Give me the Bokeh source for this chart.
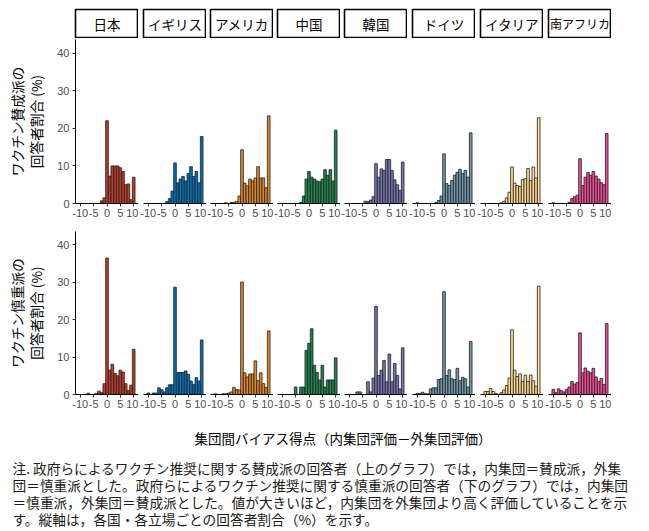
from bokeh.plotting import figure
from bokeh.layouts import row, column
from bokeh.models import Range1d, FixedTicker, Label, PrintfTickFormatter
from bokeh.embed import file_html
from bokeh.resources import INLINE

# ---------------- data ----------------
scores = list(range(-10, 11))
countries = ["日本", "イギリス", "アメリカ", "中国", "韓国", "ドイツ", "イタリア", "南アフリカ"]
colors = ["#BC3C29", "#0072B5", "#E18727", "#20854E", "#7876B1", "#6F99AD", "#FFDC91", "#EE4C97"]
x_ticks = [-10, -5, 0, 5, 10]
y_ticks = [0, 10, 20, 30, 40]

# ワクチン賛成派 (upper row), % per score -10..10
pro_japan   = [0, 0, 0, 0, 0, 0, 0, 0, 0.7, 1.5, 22.0, 7.3, 10.0, 10.0, 10.0, 9.5, 8.5, 5.0, 5.2, 1.0, 7.0]
pro_uk      = [0, 0, 0, 0, 0, 0, 0, 0.5, 1.3, 3.3, 10.8, 5.5, 6.5, 7.2, 6.0, 8.0, 9.8, 7.2, 8.5, 5.5, 17.8]
pro_us      = [0, 0, 0, 0, 0.2, 0, 0.3, 0.3, 0.5, 2.0, 14.3, 5.4, 4.7, 6.5, 6.0, 6.8, 9.8, 6.8, 6.8, 4.2, 23.3]
pro_china   = [0, 0, 0, 0, 0, 0, 0, 0.3, 2.0, 6.5, 8.5, 7.0, 6.5, 6.0, 5.8, 6.5, 9.0, 7.5, 9.0, 6.0, 19.5]
pro_korea   = [0, 0, 0, 0, 0, 0, 0.6, 0.5, 0.9, 1.8, 10.6, 7.0, 9.2, 8.8, 11.7, 11.7, 8.8, 6.3, 5.0, 3.5, 11.0]
pro_germany = [0.2, 0, 0, 0, 0, 0, 0, 0.3, 0.8, 2.0, 13.2, 5.3, 4.8, 6.1, 7.5, 8.3, 9.1, 8.0, 8.8, 7.0, 18.8]
pro_italy   = [0, 0, 0, 0, 0, 0, 0.2, 0.6, 1.5, 3.0, 9.7, 5.4, 4.8, 4.5, 6.4, 6.6, 9.3, 6.1, 9.7, 6.8, 22.8]
pro_safrica = [0.2, 0, 0, 0, 0, 0, 0.3, 1.3, 1.8, 2.2, 11.9, 4.8, 7.0, 8.2, 7.5, 8.5, 7.3, 6.5, 5.5, 5.0, 18.6]

# ワクチン慎重派 (lower row)
cau_japan   = [0, 0, 0, 0.35, 0, 0, 0.3, 0.9, 0.5, 2.9, 36.5, 6.5, 8.1, 5.6, 5.0, 6.5, 6.0, 2.9, 1.1, 2.5, 12.1]
cau_uk      = [0.4, 0, 0.4, 0.4, 1.8, 1.3, 0.7, 1.8, 2.6, 2.6, 28.7, 5.9, 5.9, 5.9, 6.3, 5.4, 3.6, 2.7, 4.5, 3.6, 14.6]
cau_us      = [0.2, 0, 0, 0.2, 0.2, 0.4, 0.7, 1.9, 1.3, 1.2, 30.1, 5.8, 4.7, 5.5, 5.5, 9.0, 3.7, 5.8, 2.9, 1.9, 17.0]
cau_china   = [0, 0, 0, 0, 0, 2.0, 0, 2.0, 2.0, 11.8, 13.7, 17.6, 7.8, 5.9, 3.9, 7.8, 2.0, 3.9, 3.9, 3.9, 9.8]
cau_korea   = [0, 0, 0, 0.7, 0.7, 0, 0, 3.4, 0.7, 4.4, 23.6, 5.1, 6.5, 9.1, 3.4, 10.8, 3.4, 8.3, 5.1, 1.5, 12.5]
cau_germany = [0.3, 0.3, 0.6, 0.2, 0.2, 1.5, 1.8, 1.8, 4.0, 4.2, 27.5, 5.1, 6.6, 4.2, 4.0, 7.0, 3.7, 4.6, 4.2, 2.0, 14.2]
cau_italy   = [0.8, 0.8, 1.6, 0.8, 0.3, 0, 0.5, 1.2, 2.4, 4.4, 17.3, 6.5, 4.8, 5.5, 3.5, 5.2, 3.5, 5.2, 3.7, 2.2, 29.0]
cau_safrica = [1.4, 0.5, 1.5, 1.0, 0.7, 1.4, 2.0, 3.5, 2.8, 3.2, 16.5, 5.8, 7.1, 6.2, 5.8, 7.0, 4.7, 3.5, 4.3, 2.7, 19.0]

pro_rows = [pro_japan, pro_uk, pro_us, pro_china, pro_korea, pro_germany, pro_italy, pro_safrica]
cau_rows = [cau_japan, cau_uk, cau_us, cau_china, cau_korea, cau_germany, cau_italy, cau_safrica]

pro_ylabel = "ワクチン賛成派の\n回答者割合 (%)"
cau_ylabel = "ワクチン慎重派の\n回答者割合 (%)"
x_title = "集団間バイアス得点（内集団評価－外集団評価）"
note_lines = [
    "注. 政府らによるワクチン推奨に関する賛成派の回答者（上のグラフ）では，内集団＝賛成派，外集",
    "団＝慎重派とした。政府らによるワクチン推奨に関する慎重派の回答者（下のグラフ）では，内集団",
    "＝慎重派，外集団＝賛成派とした。値が大きいほど，内集団を外集団より高く評価していることを示",
    "す。縦軸は，各国・各立場ごとの回答者割合（%）を示す。",
]

# ---------------- styling ----------------
JP = "Noto Sans CJK JP"
NUM = "Liberation Sans"
FS = "13.7px"
widths = [138, 68, 67, 67, 67, 68, 68, 68]
FRAME_W = 63
X_LIM = (-11.8, 11.8)
Y_LIM = (0, 43.6)


def strip(i):
    w = widths[i]
    p = figure(width=w, height=38, x_range=Range1d(0, 1), y_range=Range1d(0, 1),
               x_axis_type=None, y_axis_type=None, output_backend="svg", toolbar_location=None,
               min_border_left=w - FRAME_W, min_border_right=0, min_border_top=9, min_border_bottom=1)
    p.outline_line_color = "black"
    p.outline_line_width = 1.6
    p.background_fill_color = "white"
    p.border_fill_color = "white"
    p.xgrid.visible = False
    p.ygrid.visible = False
    size = min(13.5, 60.0 / len(countries[i]))
    p.add_layout(Label(x=0.5, y=0.5, text=countries[i], text_align="center", text_baseline="middle",
                       text_font=JP, text_font_size=f"{size:.1f}px", text_color="black"))
    return p


def panel(i, vals, height, top_border, ylabel):
    w = widths[i]
    p = figure(width=w, height=height, x_range=Range1d(*X_LIM), y_range=Range1d(*Y_LIM),
               output_backend="svg", toolbar_location=None,
               min_border_left=w - FRAME_W, min_border_right=0,
               min_border_top=top_border, min_border_bottom=28)
    xs = [s for s, v in zip(scores, vals) if v > 0]
    tops = [v for v in vals if v > 0]
    p.vbar(x=xs, top=tops, width=1, bottom=0, fill_color=colors[i],
           line_color="#1f1f1f", line_width=0.8)
    p.outline_line_color = None
    p.xgrid.visible = False
    p.ygrid.visible = False
    p.background_fill_color = "white"
    p.border_fill_color = "white"
    ax = p.xaxis[0]
    ax.ticker = FixedTicker(ticks=x_ticks)
    ax.formatter = PrintfTickFormatter(format="%d")
    ax.major_label_text_font = NUM
    ax.major_label_text_font_size = "11px"
    ax.major_label_text_color = "#4D4D4D"
    ax.major_label_standoff = 2
    ax.major_tick_out = 3
    ax.major_tick_in = 0
    ax.minor_tick_line_color = None
    ax.major_tick_line_color = "#333333"
    ax.axis_line_color = "black"
    ax.axis_line_width = 1
    ay = p.yaxis[0]
    if i == 0:
        ay.ticker = FixedTicker(ticks=y_ticks)
        ay.formatter = PrintfTickFormatter(format="%d")
        ay.major_label_text_font = NUM
        ay.major_label_text_font_size = "11px"
        ay.major_label_text_color = "#4D4D4D"
        ay.major_label_standoff = 3
        ay.major_tick_out = 3
        ay.major_tick_in = 0
        ay.minor_tick_line_color = None
        ay.major_tick_line_color = "#333333"
        ay.axis_line_color = "black"
        ay.axis_line_width = 1
        ay.axis_label = ylabel
        ay.axis_label_text_font = JP
        ay.axis_label_text_font_size = FS
        ay.axis_label_text_font_style = "normal"
        ay.axis_label_text_color = "black"
        ay.axis_label_text_line_height = 0.95
        ay.axis_label_standoff = 8
    else:
        ay.visible = False
    return p


strips = [strip(i) for i in range(8)]
top_row = [panel(i, pro_rows[i], 193, 1, pro_ylabel) for i in range(8)]
bot_row = [panel(i, cau_rows[i], 191, 0, cau_ylabel) for i in range(8)]

NW, NH = 645, 108
note = figure(width=NW, height=NH, x_range=Range1d(0, NW), y_range=Range1d(NH, 0),
              x_axis_type=None, y_axis_type=None, output_backend="svg", toolbar_location=None,
              min_border=0)
note.outline_line_color = None
note.xgrid.visible = False
note.ygrid.visible = False
note.add_layout(Label(x=342.5, y=15, text=x_title, text_align="center", text_baseline="middle",
                      text_font=JP, text_font_size="13.5px", text_color="black"))
for k, line in enumerate(note_lines):
    note.add_layout(Label(x=12, y=45 + 17 * k, text=line, text_align="left", text_baseline="middle",
                          text_font=JP, text_font_size=FS, text_color="#1a1a1a"))

layout = column(row(*strips), row(*top_row), row(*bot_row), note)

with open("out.html", "w") as f:
    f.write(file_html(layout, INLINE))
